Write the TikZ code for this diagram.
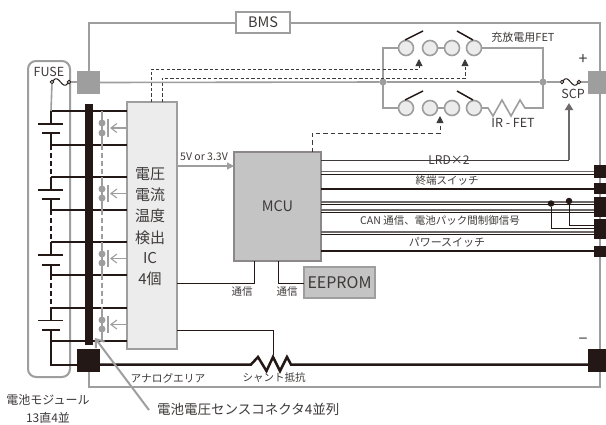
\documentclass[tikz,border=0pt]{standalone}
\usepackage{fontspec}
\setmainfont{Noto Sans CJK JP}
\usetikzlibrary{arrows.meta}
\definecolor{ink}{HTML}{3E3A39}
\definecolor{blk}{HTML}{231815}
\definecolor{frm}{HTML}{9E9E9E}
\definecolor{lgt}{HTML}{ECECEC}
\definecolor{mid}{HTML}{C4C4C4}
\definecolor{dgr}{HTML}{6E6A69}
\tikzset{
 x=1pt,y=-1pt,
 frameline/.style={draw=frm,line width=2pt},
 gline/.style={draw=frm,line width=1.6pt},
 bline/.style={draw=blk,line width=1.7pt},
 bthin/.style={draw=blk,line width=.95pt},
 hthick/.style={draw=blk,line width=2pt},
 gthick/.style={draw=dgr,line width=1.7pt},
 dline/.style={draw=ink,line width=.95pt,dash pattern=on 3.2pt off 2.2pt},
 dashv/.style={line width=1.2pt,dash pattern=on 4.5pt off 3.5pt},
 lbl/.style={text=ink,inner sep=0pt,font=\fontsize{#1}{#1}\selectfont},
 lbl/.default=10,
 graysq/.style={fill=frm,draw=none,inner sep=0,outer sep=0,minimum width=23pt,minimum height=23pt},
 blacksq/.style={fill=blk,draw=none,inner sep=0,outer sep=0,anchor=north west},
 sw/.style={circle,draw=frm,fill=lgt,line width=1.6pt,minimum size=15pt,inner sep=0,outer sep=0},
 jdot/.style={circle,fill=frm,inner sep=0,minimum size=7pt,outer sep=0},
 kdot/.style={circle,fill=blk,inner sep=0,minimum size=6.5pt,outer sep=0},
 tdot/.style={circle,fill=frm,inner sep=0,minimum size=7pt,outer sep=0},
 fdot/.style={circle,draw=blk,fill=white,line width=.9pt,inner sep=0,minimum size=3.5pt,outer sep=0},
 blade/.style={draw=blk,line width=1.5pt},
 upa/.style={-{Triangle[length=7pt,width=7pt]}},
}
\newcommand{\cell}[5]{%
 \draw[bline] (#1,#2) -- (#1,#3);
 \draw[bline] (38,#3) -- (63,#3);
 \draw[bline] (42,#4) -- (60,#4);
 \draw[bline] (#1,#4) -- (#1,#5);
 \draw[hthick] (#1,#2) -- (ic.west |- 0,#2);
 \draw[hthick] (#1,#5) -- (ic.west |- 0,#5);
}
\newcommand{\tr}[5]{%
 \draw[gline] (102,#2) -- (102,#5);
 \node[tdot] at (102,#3) {};
 \node[tdot] at (102,#4) {};
 \pgfmathsetmacro{\ya}{#3-4}\pgfmathsetmacro{\yb}{#4+4}\pgfmathsetmacro{\ym}{(#3+#4)/2}
 \draw[frm,line width=1.6pt] (108,\ya) -- (108,\yb);
 \draw[frm,line width=1.1pt,{Straight Barb[length=6pt,width=9pt]}-] (110,\ym) -- (ic.west |- 0,\ym);
}
\begin{document}
\begin{tikzpicture}
\useasboundingbox (0,0) rectangle (606,424);
\fill[white] (0,0) rectangle (606,424);
\coordinate (ftl) at (88.5,23);
\coordinate (ftr) at (600,23);
\coordinate (fbl) at (88.5,387);
\coordinate (fbr) at (600,387);
\draw[frameline] (88.5,71) -- (ftl) -- (ftr) -- (600,349);
\draw[frameline] (88.5,372) -- (fbl) -- (fbr) -- (600,372);
\node[draw=frm,fill=white,line width=1.6pt,minimum width=54pt,minimum height=21pt,inner sep=0,lbl=14.5] (bms) at (263,22.5) {BMS};
\draw[draw=frm,line width=2pt,rounded corners=8pt] (28,61) rectangle (70,377);
\node[lbl=12.5] (fuselbl) at (49,72) {FUSE};
\node[graysq] (gl) at (88.5,82.5) {};
\node[fill=frm,inner sep=0,outer sep=0,minimum width=18pt,minimum height=23pt] (gr) at (597,82.5) {};
\node[fill=blk,inner sep=0,outer sep=0,minimum width=23pt,minimum height=23pt] (bl) at (88.5,360.5) {};
\node[fill=blk,inner sep=0,outer sep=0,minimum width=18pt,minimum height=23pt] (br) at (597,360.5) {};
\node[draw=frm,fill=lgt,line width=1.8pt,minimum width=50pt,minimum height=247pt,inner sep=0,outer sep=0] (ic) at (152,225.5) {};
\node[draw=dgr!80,fill=mid,line width=1.8pt,minimum width=87pt,minimum height=109pt,inner sep=0,outer sep=0,lbl=14.5] (mcu) at (277.5,206.5) {MCU};
\node[draw=frm,fill=mid,line width=1.6pt,minimum width=71pt,minimum height=31pt,inner sep=0,outer sep=0,lbl=16] (eeprom) at (339.5,282.5) {EEPROM};
\node[blacksq,minimum width=12pt,minimum height=13pt] (c1) at (594,165) {};
\node[blacksq,minimum width=12pt,minimum height=11pt] (c2) at (594,183) {};
\node[blacksq,minimum width=12pt,minimum height=20pt] (c3) at (594,197) {};
\node[blacksq,minimum width=12pt,minimum height=20pt] (c4) at (594,219) {};
\node[blacksq,minimum width=12pt,minimum height=11pt] (c5) at (594,246) {};
\foreach \t/\y in {電圧/174,電流/195,温度/216,検出/238,IC/258,4個/279}
  \node[lbl=15] at (150,\y) {\t};
\cell{51}{111}{124}{133}{145}
\cell{51}{177}{190}{199}{210}
\cell{51}{242}{255}{265}{275}
\cell{51}{308}{320.5}{330}{341}
\draw[bline,dashv] (51,145) -- (51,177);
\draw[bline,dashv] (51,210) -- (51,242);
\draw[bline,dashv] (51,275) -- (51,308);
\tr{t1}{111}{123}{133}{145}
\tr{t2}{177}{189}{198}{210}
\tr{t3}{242}{254}{263}{275}
\tr{t4}{308}{320}{329}{341}
\draw[frm,dashv,line width=1.6pt] (102,145) -- (102,177);
\draw[frm,dashv,line width=1.6pt] (102,210) -- (102,242);
\draw[frm,dashv,line width=1.6pt] (102,275) -- (102,308);
\fill[blk] (85,104) rectangle (93,345);
\node[fdot] (f1) at (52,82) {};
\node[fdot] (f2) at (69,82) {};
\draw[blk,line width=1pt] (f1) .. controls (56,77) and (58,79) .. (60.5,82) .. controls (63,85) and (65,87) .. (f2);
\draw[gline] (f1) -- (51,111);
\draw[gline] (f2) -- (gl.west |- f2);
\draw[bline,line width=2pt] (51,341) -- (51,364.5) -- (bl.west |- 0,364.5);
\coordinate (sa) at (251,364.5);
\coordinate (sb) at (291,364.5);
\draw[draw=blk,line width=2.5pt] (bl.east |- sa) -- (sa) -- (258,357) -- (266.5,371) -- (273,357) -- (280,371) -- (287,357) -- (sb) -- (br.west |- sb);
\node[jdot] (j1) at (383,82) {};
\node[jdot] (j2) at (543,82) {};
\node[fdot] (s1) at (562,82) {};
\node[fdot] (s2) at (579,82) {};
\draw[gline] (gl.east) -- (j1) -- (j2) -- (s1);
\draw[gline] (s2) -- (gr.west |- s2);
\draw[blk,line width=1pt] (s1) .. controls (566,77) and (568,79) .. (570.5,82) .. controls (573,85) and (575,87) .. (s2);
\foreach \n/\x/\y in {a/406/48,d/474/48,e/406/108,h/474/108}
  \node[sw] (\n) at (\x,\y) {};
\draw[gline] (a.west) -- (383,48) -- (383,108) -- (e.west);
\draw[gline] (430,48) -- (452,48);
\draw[gline] (430,108) -- (452,108);
\foreach \n/\x/\y in {b/430/48,c/452/48,f/430/108,g/452/108}
  \node[sw] (\n) at (\x,\y) {};
\draw[gline] (d.east) -- (543,48) -- (543,108) -- (525,108) -- (520,100) -- (511,116) -- (502,100) -- (493,116) -- (488,108) -- (h.east);
\draw[blade] (405,40) -- (423,31);
\draw[blade] (457,31) -- (473,40);
\draw[blade] (405,100) -- (423,91);
\draw[blade] (457,91) -- (473,100);
\draw[dline,upa] (ic.north -| 151,0) -- (151,69) -- (419,69) -- (419,59);
\draw[dline,upa] (ic.north -| 162,0) -- (162,78) -- (465,78) -- (465,59);
\draw[dline,upa,dash pattern=on 4.5pt off 3pt] (mcu.north -| 312,0) -- (312,133) -- (440,133) -- (440,116);
\draw[frm,line width=1.2pt,-{Triangle[length=7pt,width=7pt]}] (ic.east |- 0,166) -- (mcu.west |- 0,166);
\draw[draw=ink,line width=.95pt] (mcu.east |- 0,160) -- (569,160);
\draw[draw=dgr,line width=1.8pt,-{Triangle[length=7pt,width=8pt]}] (569,160) -- (569,103);
\draw[gthick] (mcu.east |- 0,171.5) -- (c1.west |- 0,171.5);
\draw[bthin] (mcu.east |- 0,174) -- (c1.west |- 0,174);
\draw[hthick] (mcu.east |- 0,189) -- (c2.west |- 0,189);
\draw[gthick] (mcu.east |- 0,202) -- (c3.west |- 0,202);
\draw[bthin] (mcu.east |- 0,204.5) -- (c3.west |- 0,204.5);
\draw[gthick,line width=1.1pt] (mcu.east |- 0,210) -- (c3.west |- 0,210);
\draw[bthin] (mcu.east |- 0,212) -- (c3.west |- 0,212);
\draw[gthick] (mcu.east |- 0,232) -- (c4.west |- 0,232);
\draw[bthin] (mcu.east |- 0,234.5) -- (c4.west |- 0,234.5);
\draw[hthick] (mcu.east |- 0,251) -- (c5.west |- 0,251);
\node[kdot] (k1) at (551,203.5) {};
\node[kdot] (k2) at (569,201) {};
\draw[bthin] (k1) -- (551,228) -- (c4.west |- 0,228);
\draw[bthin] (k2) -- (569,225) -- (c4.west |- 0,225);
\draw[bthin] (mcu.south -| 254,0) -- (254,283) -- (ic.east |- 0,283);
\draw[bthin] (mcu.south -| 278,0) -- (278,283) -- (eeprom.west |- 0,283);
\draw[bthin] (ic.east |- 0,330) -- (273,330) -- (273,355);
\node[lbl=11] (l1) at (523,37) {充放電用FET};
\node[lbl=16] (l2) at (583,60) {+};
\node[lbl=16] (l3) at (583,341) {−};
\node[lbl=12.5] (l4) at (513,123) {IR - FET};
\node[lbl=12.5] (l5) at (573,94) {SCP};
\node[lbl=10.5] (l6) at (204,157) {5V or 3.3V};
\node[lbl=12] (l7) at (449,160) {LRD×2};
\node[lbl=10.5] (l8) at (447,181) {終端スイッチ};
\node[lbl=10.5] (l9) at (440,221) {CAN 通信、電池パック間制御信号};
\node[lbl=11] (l10) at (447,242) {パワースイッチ};
\node[lbl=10.5] (l11) at (242,292) {通信};
\node[lbl=10.5] (l12) at (287,292) {通信};
\node[lbl=10.7] (l13) at (168,378) {アナログエリア};
\node[lbl=10.5] (l14) at (274,378) {シャント抵抗};
\node[lbl=12] (l15) at (48,400) {電池モジュール};
\node[lbl=12] (l16) at (48,418) {13直4並};
\node[lbl=13.5,anchor=west] (l17) at (157,409) {電池電圧センスコネクタ4並列};
\coordinate (ctip) at (95,338);
\draw[frm,line width=2pt,-{Straight Barb[length=7pt,width=11pt]}] (l17.west) ++(-8,1) -- (ctip);
\end{tikzpicture}
\end{document}
